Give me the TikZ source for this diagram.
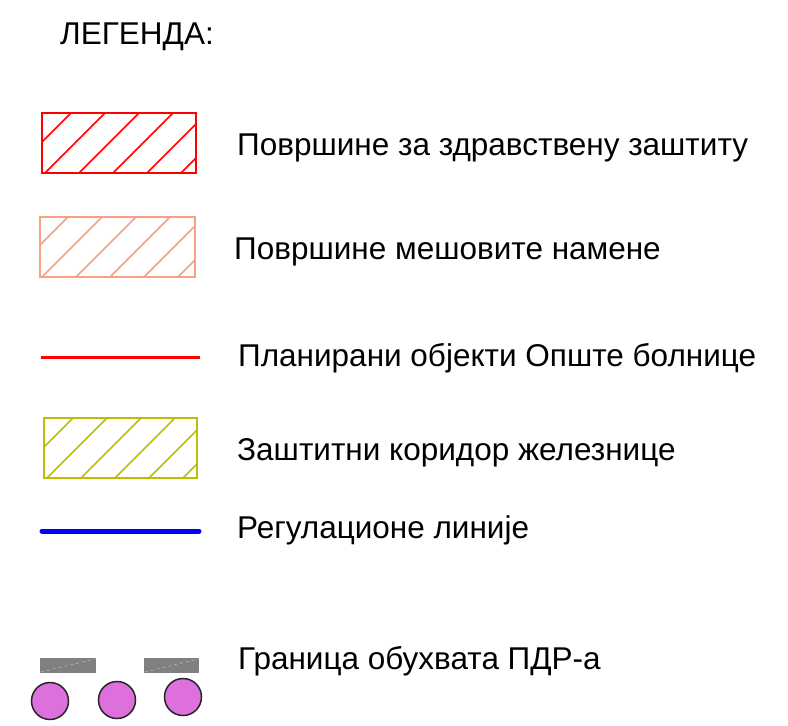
\documentclass[tikz,border=0pt]{standalone}
\usepackage{fontspec}
\setmainfont{Liberation Sans}
\definecolor{hred}{RGB}{255,0,0}
\definecolor{hsalmon}{RGB}{250,160,130}
\definecolor{holive}{RGB}{190,190,0}
\definecolor{hblue}{RGB}{0,0,255}
\definecolor{hgray}{RGB}{128,128,128}
\definecolor{hpink}{RGB}{222,112,222}
\tikzset{
  legtext/.style={anchor=base west, inner sep=0pt, font=\fontsize{31.5}{36}\selectfont},
  hbox/.style={draw=#1, line width=2pt},
  hatchline/.style={draw=#1, line width=1.6pt},
  graybar/.style={fill=hgray, draw=none},
  pinkdot/.style={circle, fill=hpink, draw=black!85, line width=1.5pt, minimum size=37pt, inner sep=0pt}
}
\newcommand{\hatchbox}[6]{% x1,y1,x2,y2,c0,color
  \begin{scope}
    \clip (#1,#2) rectangle (#3,#4);
    \foreach \k in {0,...,6}{
      \pgfmathsetmacro{\cc}{#5+34*\k}
      \draw[hatchline=#6] ({\cc-#4-5},{#4+5}) -- ({\cc-#2+5},{#2-5});
    }
  \end{scope}
  \draw[hbox=#6] (#1,#2) rectangle (#3,#4);
}
\begin{document}
\begin{tikzpicture}[x=1pt,y=-1pt]
\useasboundingbox (0,0) rectangle (788,726);
\fill[white] (0,0) rectangle (788,726);

\node[legtext] (title) at (60,44) {ЛЕГЕНДА:};

% box 1
\hatchbox{42}{113}{196}{173}{184}{hred}
\node[legtext] (t1) at (237,155) {Површине за здравствену заштиту};

% box 2
\hatchbox{40}{217}{195}{277}{285}{hsalmon}
\node[legtext] (t2) at (234,259) {Површине мешовите намене};

% red line
\coordinate (r1) at (41,357);
\coordinate (r2) at (200,357);
\draw[hred, line width=3pt] (r1) -- (r2);
\node[legtext] (t3) at (238,366) {Планирани објекти Опште болнице};

% box 3
\hatchbox{44}{418}{197}{478}{491}{holive}
\node[legtext] (t4) at (237,460) {Заштитни коридор железнице};

% blue line
\coordinate (b1) at (42,531);
\coordinate (b2) at (199,531);
\draw[hblue, line width=5pt, line cap=round] (b1) -- (b2);
\node[legtext] (t5) at (237,538) {Регулационе линије};

% boundary symbol
\fill[graybar] (40,658) rectangle (96,673);
\draw[gray!55, line width=0.6pt, dashed] (41,672) -- (95,659);
\fill[graybar] (144,658) rectangle (199,673);
\draw[gray!55, line width=0.6pt, dashed] (145,672) -- (198,659);
\node[pinkdot] (c1) at (50,701) {};
\node[pinkdot] (c2) at (117,700) {};
\node[pinkdot] (c3) at (183,697) {};
\node[legtext] (t6) at (238,669) {Граница обухвата ПДР-а};
\end{tikzpicture}
\end{document}
